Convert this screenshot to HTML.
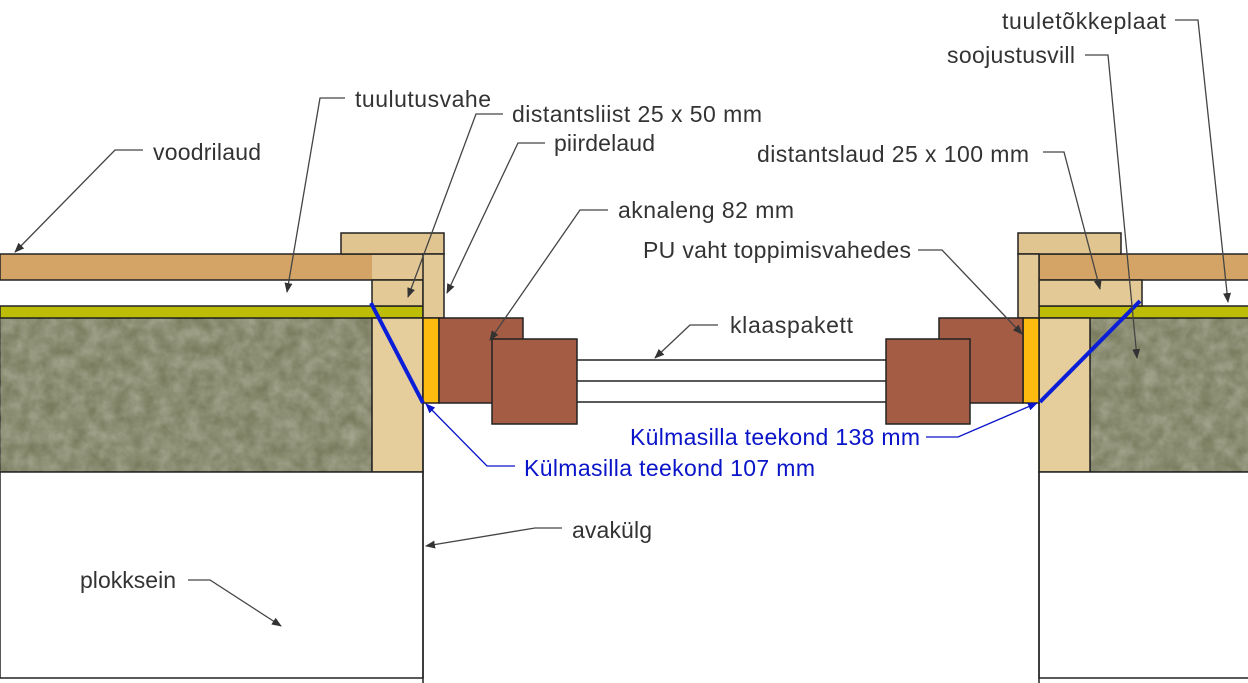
<!DOCTYPE html>
<html><head><meta charset="utf-8"><style>
html,body{margin:0;padding:0;background:#fff;}
svg{display:block;}
text{font-family:"Liberation Sans","DejaVu Sans",sans-serif;font-size:23px;fill:#333;}
.b{fill:#0a14c8;}
</style></head><body>
<svg width="1248" height="683" viewBox="0 0 1248 683" xmlns="http://www.w3.org/2000/svg">
<defs>
<filter id="tex" x="0" y="0" width="100%" height="100%">
<feTurbulence type="fractalNoise" baseFrequency="0.07" numOctaves="3" seed="3"/>
<feColorMatrix type="matrix" values="0 0 0 0 0.47  0 0 0 0 0.48  0 0 0 0 0.37  0 0 0 -0.9 0.75"/>
</filter>
<marker id="ar" markerWidth="10" markerHeight="8" refX="9" refY="4" orient="auto" markerUnits="userSpaceOnUse">
<path d="M0,0 L10,4 L0,8 z" fill="#333"/></marker>
<marker id="ab" markerWidth="10" markerHeight="8" refX="9" refY="4" orient="auto" markerUnits="userSpaceOnUse">
<path d="M0,0 L10,4 L0,8 z" fill="#0a14c8"/></marker>
</defs>
<g stroke="#222" stroke-width="1.5">
<rect x="0" y="318" width="372" height="154" fill="#7a7c5f"/>
<rect x="0" y="318" width="372" height="154" filter="url(#tex)" stroke="none"/>
<rect x="0" y="306" width="423" height="12" fill="#bdbd08"/>
<rect x="0" y="254" width="423" height="26" fill="#d3a466"/>
<rect x="372" y="255" width="51" height="24" fill="#e2c693" stroke="none"/>
<rect x="372" y="280" width="51" height="26" fill="#e3c995"/>
<rect x="372" y="318" width="51" height="154" fill="#e6cd9c"/>
<rect x="341" y="233" width="103" height="21" fill="#e1c591"/>
<rect x="423" y="254" width="21" height="64" fill="#e3c995"/>
<rect x="0" y="472" width="423" height="206" fill="#fff"/>
<line x1="423" y1="318" x2="423" y2="683"/>
<rect x="423" y="318" width="16" height="85" fill="#fdbb10"/>
<rect x="439" y="318" width="84" height="85" fill="#a55c45"/>
<rect x="492" y="339" width="85" height="85" fill="#a55c45"/>
<line x1="577" y1="360" x2="887" y2="360"/>
<line x1="577" y1="381" x2="887" y2="381"/>
<line x1="577" y1="402" x2="887" y2="402"/>
<rect x="1090" y="318" width="160" height="154" fill="#7a7c5f"/>
<rect x="1090" y="318" width="160" height="154" filter="url(#tex)" stroke="none"/>
<rect x="1039" y="306" width="211" height="12" fill="#bdbd08"/>
<rect x="1039" y="254" width="211" height="26" fill="#d3a466"/>
<rect x="1039" y="280" width="103" height="26" fill="#e3c995"/>
<rect x="1039" y="318" width="51" height="154" fill="#e6cd9c"/>
<rect x="1018" y="233" width="103" height="21" fill="#e1c591"/>
<rect x="1018" y="254" width="21" height="64" fill="#e3c995"/>
<rect x="1039" y="472" width="211" height="206" fill="#fff"/>
<line x1="1039" y1="318" x2="1039" y2="683"/>
<rect x="1023" y="318" width="16" height="85" fill="#fdbb10"/>
<rect x="939" y="318" width="84" height="85" fill="#a55c45"/>
<rect x="886" y="339" width="84" height="85" fill="#a55c45"/>
</g>
<line x1="371" y1="303" x2="423" y2="403" stroke="#0a1ed8" stroke-width="4"/>
<line x1="1040" y1="402" x2="1140" y2="301" stroke="#0a1ed8" stroke-width="4"/>
<g fill="none" stroke="#444" stroke-width="1.3" marker-end="url(#ar)">
<polyline points="143,150 115,150 15,252"/>
<polyline points="345,98 320,98 287,292"/>
<polyline points="503,114 476,114 408,297"/>
<polyline points="545,143 518,143 447,293"/>
<polyline points="608,210 580,210 490,340"/>
<polyline points="718,325 690,325 655,358"/>
<polyline points="918,250 942,250 1022,334"/>
<polyline points="1043,152 1064,152 1100,289"/>
<polyline points="1085,55 1108,55 1137,358"/>
<polyline points="1175,20 1198,20 1228,302"/>
<polyline points="562,528 535,528 426,546"/>
<polyline points="188,580 210,580 281,626"/>
</g>
<g fill="none" stroke="#0a14c8" stroke-width="1.3" marker-end="url(#ab)">
<polyline points="515,466 487,466 426,404"/>
<polyline points="926,437 958,437 1037,403"/>
</g>
<text x="153" y="160" textLength="108">voodrilaud</text>
<text x="355" y="107" textLength="136">tuulutusvahe</text>
<text x="512" y="122" textLength="250">distantsliist 25 x 50 mm</text>
<text x="554" y="151" textLength="101">piirdelaud</text>
<text x="618" y="218" textLength="176">aknaleng 82 mm</text>
<text x="730" y="333" textLength="123">klaaspakett</text>
<text x="643" y="258" textLength="268">PU vaht toppimisvahedes</text>
<text x="757" y="162" textLength="272">distantslaud 25 x 100 mm</text>
<text x="947" y="63" textLength="128">soojustusvill</text>
<text x="1002" y="29" textLength="164">tuuletõkkeplaat</text>
<text x="572" y="538" textLength="80">avakülg</text>
<text x="80" y="588" textLength="96">plokksein</text>
<text class="b" x="524" y="476" textLength="291">Külmasilla teekond 107 mm</text>
<text class="b" x="630" y="445" textLength="290">Külmasilla teekond 138 mm</text>
</svg>
</body></html>
